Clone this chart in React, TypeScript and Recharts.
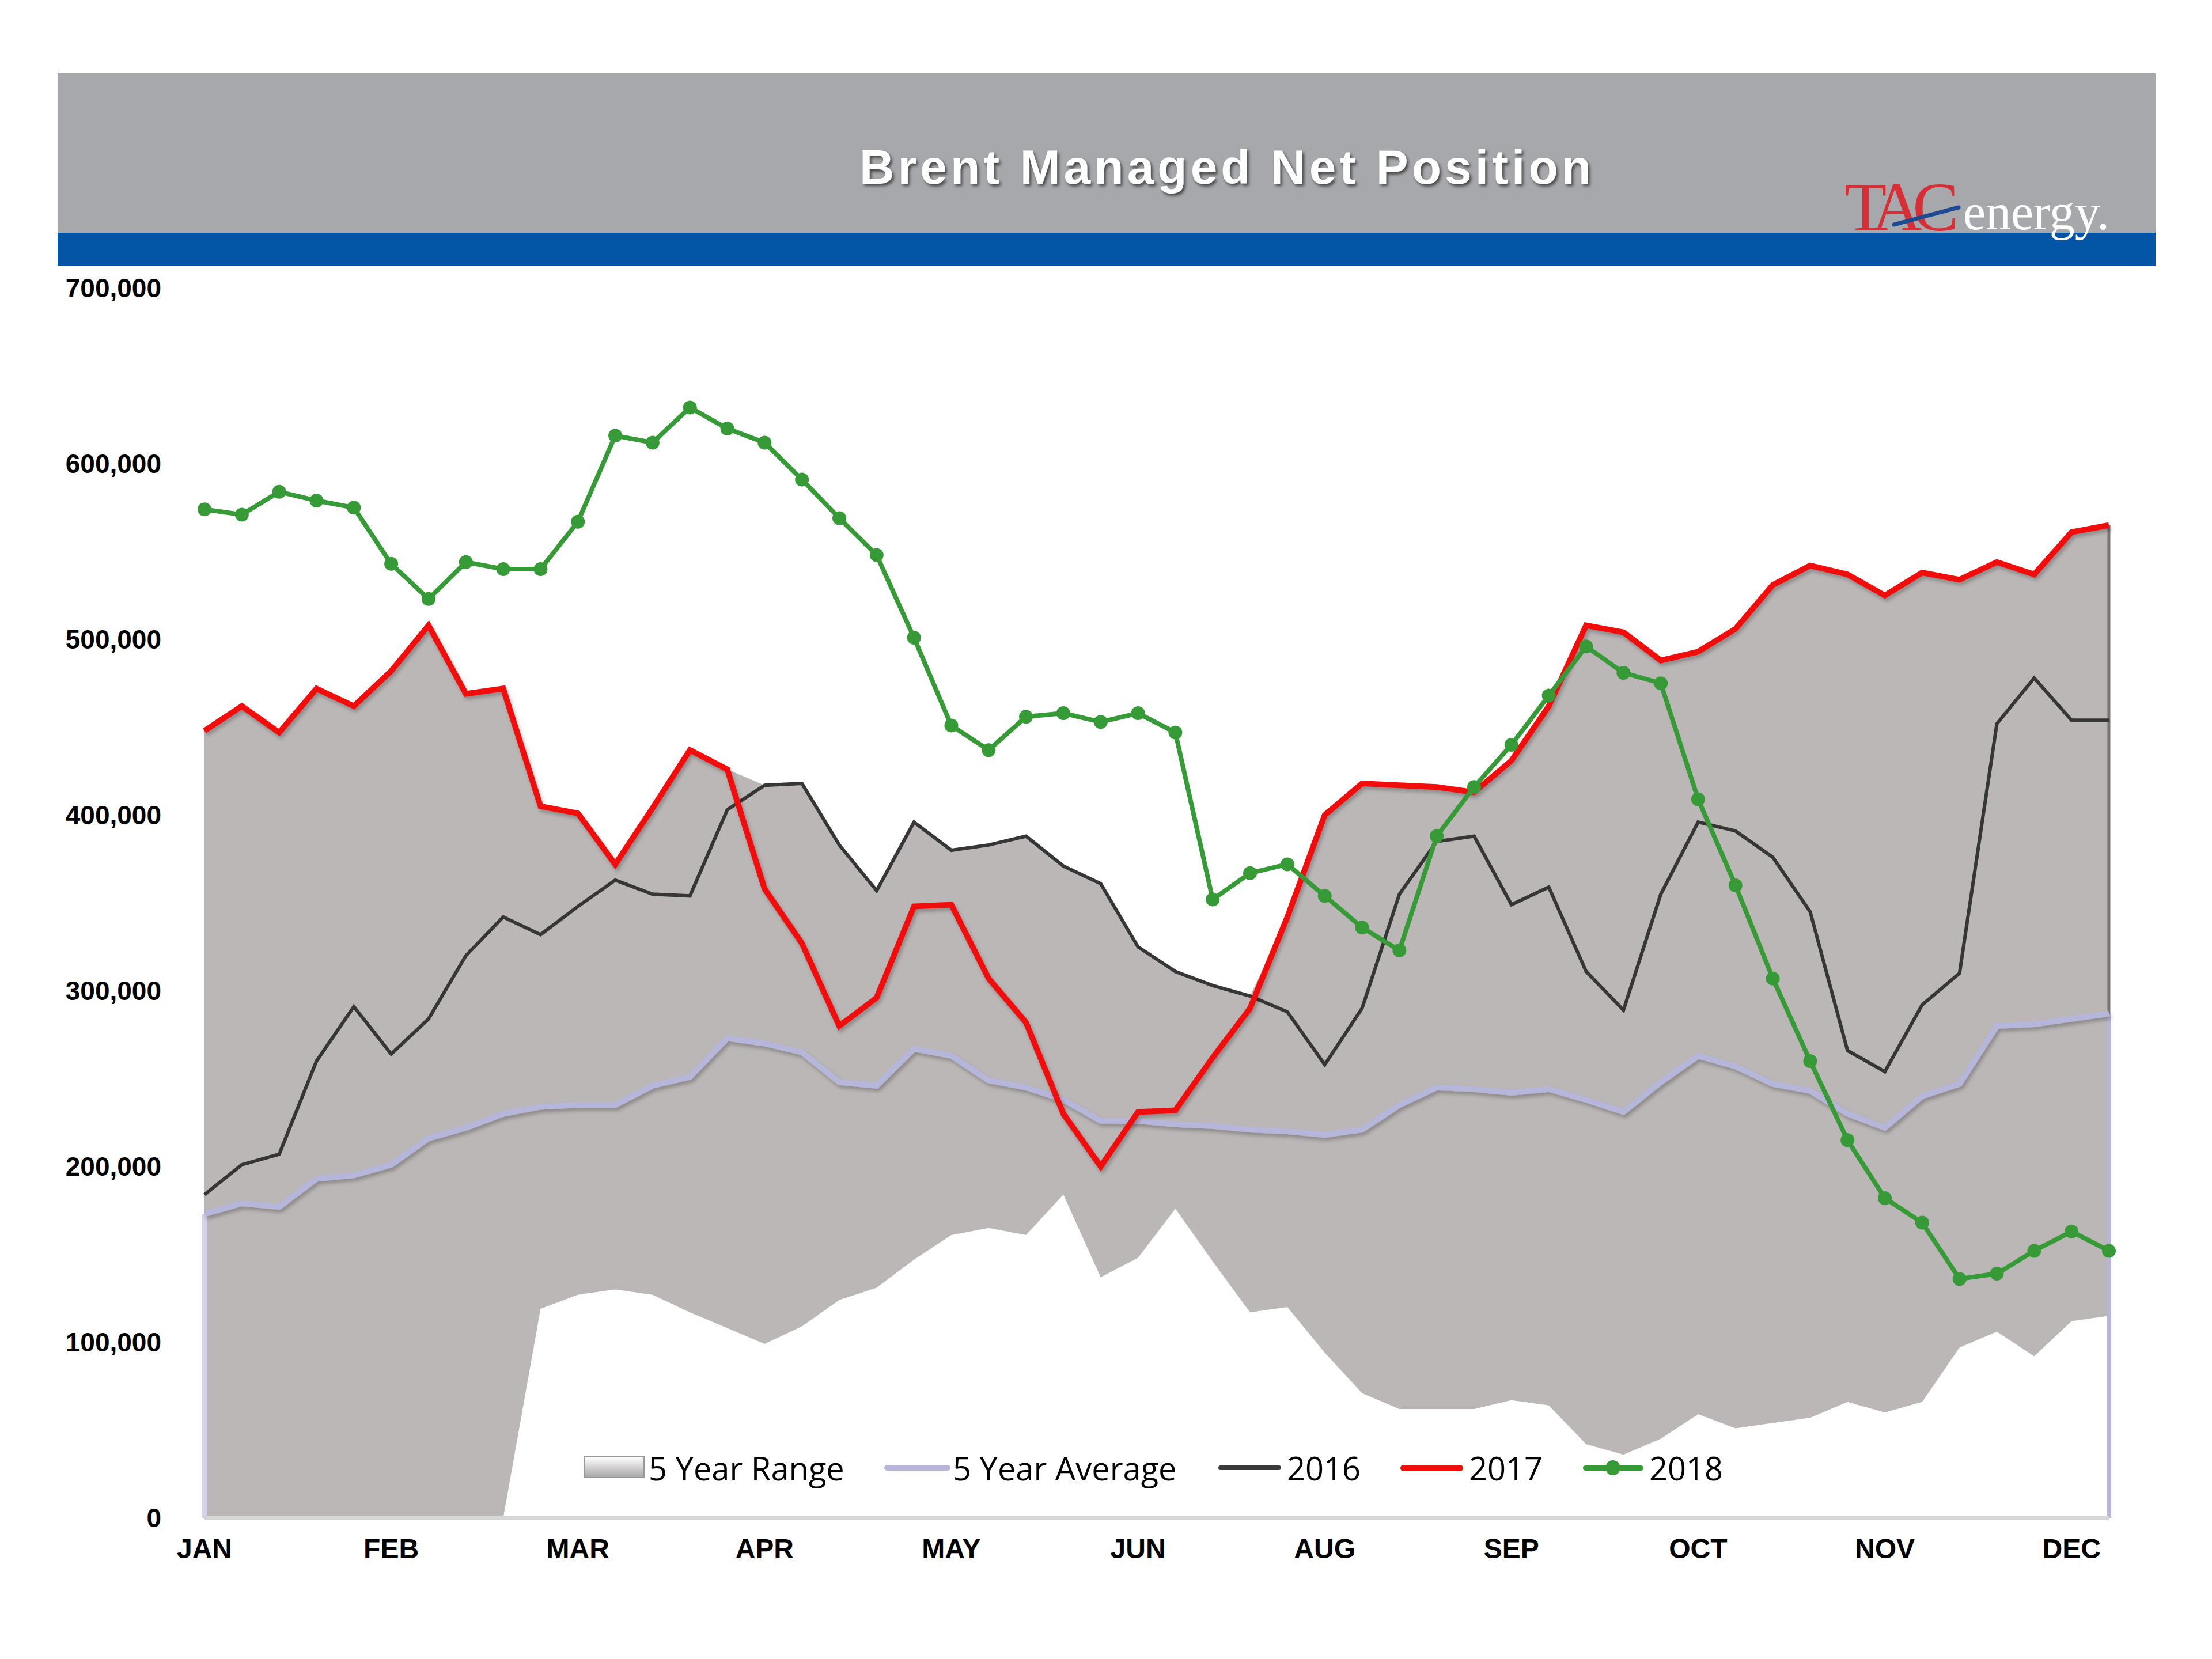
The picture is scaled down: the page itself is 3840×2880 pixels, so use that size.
import React from 'react';
import { ComposedChart, Area, Line, XAxis, YAxis, ReferenceLine } from 'recharts';

// Week index (52 weekly reports)
const weeks = [
  1, 2, 3, 4, 5, 6, 7, 8, 9, 10, 11, 12, 13, 14, 15, 16, 17, 18, 19, 20, 21, 22, 23, 24, 25, 26,
  27, 28, 29, 30, 31, 32, 33, 34, 35, 36, 37, 38, 39, 40, 41, 42, 43, 44, 45, 46, 47, 48, 49, 50, 51, 52,
];
const monthTickWeeks = [1, 6, 11, 16, 21, 26, 31, 36, 41, 46, 51];
const monthLabels = ['JAN', 'FEB', 'MAR', 'APR', 'MAY', 'JUN', 'AUG', 'SEP', 'OCT', 'NOV', 'DEC'];
const yTicks = [0, 100000, 200000, 300000, 400000, 500000, 600000, 700000];

const range5Low = [
  0, 0, 0, 0, 0, 0, 0, 0, 0, 119000, 127000, 130000, 127000, 117000, 108000, 99000, 109000, 124000,
  131000, 147000, 161000, 165000, 161000, 184000, 137000, 148000, 176000, 146000, 117000, 120000, 94000,
  71000, 62000, 62000, 62000, 67000, 64000, 42000, 36000, 45000, 59000, 51000, 54000, 57000, 66000,
  60000, 66000, 97000, 106000, 92000, 112000, 115000,
];
const range5High = [
  448000, 462000, 447000, 472000, 462000, 482000, 508000, 469000, 472000, 405000, 401000, 372000,
  404000, 437000, 426000, 417000, 418000, 384000, 356000, 397000, 380000, 383000, 388000, 371000,
  361000, 326000, 311000, 304000, 297000, 342000, 400000, 418000, 417000, 416000, 413000, 431000,
  462000, 508000, 504000, 488000, 493000, 506000, 531000, 542000, 537000, 525000, 538000, 534000,
  544000, 537000, 561000, 565000,
];
const avg5 = [
  173000, 179000, 177000, 193000, 195000, 201000, 216000, 222000, 230000, 234000, 235000, 235000,
  246000, 251000, 273000, 270000, 265000, 248000, 246000, 267000, 263000, 249000, 245000, 238000,
  226000, 226000, 224000, 223000, 221000, 220000, 218000, 221000, 235000, 245000, 244000, 242000,
  244000, 238000, 231000, 248000, 263000, 257000, 247000, 243000, 230000, 222000, 240000, 247000,
  280000, 281000, 284000, 287000,
];
const y2016 = [
  184000, 201000, 207000, 260000, 291000, 264000, 284000, 320000, 342000, 332000, 348000, 363000,
  355000, 354000, 403000, 417000, 418000, 383000, 357000, 396000, 380000, 383000, 388000, 371000,
  361000, 325000, 311000, 303000, 297000, 288000, 258000, 290000, 355000, 385000, 388000, 349000,
  359000, 311000, 289000, 355000, 396000, 391000, 376000, 345000, 266000, 254000, 292000, 310000,
  452000, 478000, 454000, 454000,
];
const y2017 = [
  448000, 462000, 447000, 472000, 462000, 482000, 508000, 469000, 472000, 405000, 401000, 372000,
  404000, 437000, 426000, 358000, 327000, 280000, 296000, 348000, 349000, 307000, 282000, 230000,
  200000, 231000, 232000, 262000, 290000, 342000, 400000, 418000, 417000, 416000, 413000, 431000,
  462000, 508000, 504000, 488000, 493000, 506000, 531000, 542000, 537000, 525000, 538000, 534000,
  544000, 537000, 561000, 565000,
];
const y2018 = [
  574000, 571000, 584000, 579000, 575000, 543000, 523000, 544000, 540000, 540000, 567000, 616000,
  612000, 632000, 620000, 612000, 591000, 569000, 548000, 501000, 451000, 437000, 456000, 458000,
  453000, 458000, 447000, 352000, 367000, 372000, 354000, 336000, 323000, 388000, 416000, 440000,
  468000, 496000, 481000, 475000, 409000, 360000, 307000, 260000, 215000, 182000, 168000, 136000,
  139000, 152000, 163000, 152000,
];

const data = weeks.map((w, i) => ({
  week: w,
  range: [range5Low[i], range5High[i]],
  avg: avg5[i],
  y2016: y2016[i],
  y2017: y2017[i],
  y2018: y2018[i],
}));

const C_RANGE = '#BBB7B6';
const C_AVG = '#B6B5DA';
const C_2016 = '#363636';
const C_2017 = '#F20D0D';
const C_2018 = '#369B36';

const legendFont = "'Open Sans', 'Liberation Sans', sans-serif";

const fmt = (v: number) => v.toLocaleString('en-US');
const monthFmt = (w: number) => {
  const k = monthTickWeeks.indexOf(w);
  return k >= 0 ? monthLabels[k] : '';
};

function LegendRow() {
  const itemText: React.CSSProperties = {
    position: 'absolute',
    fontFamily: legendFont,
    fontSize: 56,
    color: '#000',
    lineHeight: '80px',
    top: 0,
    whiteSpace: 'nowrap',
  };
  const lineSw = (left: number, width: number, color: string, thick: number): React.CSSProperties => ({
    position: 'absolute',
    left,
    width,
    top: 40 - thick / 2,
    height: thick,
    background: color,
    borderRadius: thick / 2,
  });
  return (
    <div style={{ position: 'absolute', left: 0, top: 2508, width: 3840, height: 80 }}>
      <div
        style={{
          position: 'absolute',
          left: 1013,
          top: 20,
          width: 106,
          height: 38,
          background: 'linear-gradient(#ffffff 0%, #d9d7d7 45%, #a9a6a6 100%)',
          border: '2px solid #9a9797',
          boxSizing: 'border-box',
        }}
      />
      <div style={{ ...itemText, left: 1126 }}>5 Year Range</div>
      <div style={lineSw(1535, 115, C_AVG, 10)} />
      <div style={{ ...itemText, left: 1654 }}>5 Year Average</div>
      <div style={lineSw(2115, 109, '#3a3a3a', 8)} />
      <div style={{ ...itemText, left: 2234 }}>2016</div>
      <div style={lineSw(2431, 109, C_2017, 11)} />
      <div style={{ ...itemText, left: 2550 }}>2017</div>
      <div style={lineSw(2748, 105, C_2018, 9)} />
      <div
        style={{
          position: 'absolute',
          left: 2787,
          top: 27,
          width: 26,
          height: 26,
          borderRadius: 13,
          background: C_2018,
        }}
      />
      <div style={{ ...itemText, left: 2863 }}>2018</div>
    </div>
  );
}

function Header() {
  return (
    <>
      <div
        style={{
          position: 'absolute',
          left: 100,
          top: 127,
          width: 3642,
          height: 277,
          background: '#A7A8AC',
        }}
      />
      <div
        style={{
          position: 'absolute',
          left: 100,
          top: 404,
          width: 3642,
          height: 57,
          background: '#0254A5',
        }}
      />
      <div
        style={{
          position: 'absolute',
          left: 1130,
          width: 2000,
          top: 240,
          height: 100,
          lineHeight: '100px',
          textAlign: 'center',
          fontFamily: "'Liberation Sans', Arial, sans-serif",
          fontWeight: 700,
          fontSize: 84,
          letterSpacing: 6,
          color: '#ffffff',
          textShadow: '3px 4px 5px rgba(40,40,40,0.75)',
        }}
      >
        Brent Managed Net Position
      </div>
      <svg
        style={{ position: 'absolute', left: 0, top: 0 }}
        width={3840}
        height={520}
      >
        <text
          x={3202}
          y={400}
          fontFamily="'Liberation Serif', 'DejaVu Serif', serif"
          fontSize={120}
          fill="#D62F35"
          letterSpacing={-16}
        >
          TAC
        </text>
        <line x1={3288} y1={390} x2={3400} y2={360} stroke="#1E4A92" strokeWidth={7} strokeLinecap="round" />
        <text
          x={3408}
          y={398}
          fontFamily="'Liberation Serif', 'DejaVu Serif', serif"
          fontSize={88}
          fill="#ffffff"
        >
          energy.
        </text>
      </svg>
    </>
  );
}

export default function App() {
  return (
    <div
      style={{
        position: 'absolute',
        left: 0,
        top: 0,
        width: 3840,
        height: 2880,
        background: '#ffffff',
        overflow: 'hidden',
      }}
    >
      <Header />
      <div style={{ position: 'absolute', left: 0, top: 0 }}>
        <ComposedChart
          width={3840}
          height={2880}
          data={data}
          margin={{ top: 500, right: 179, bottom: 0, left: 0 }}
        >
          <defs>
            <filter id="lineShadow" x="-5%" y="-5%" width="110%" height="120%">
              <feDropShadow dx="3" dy="5" stdDeviation="3" floodColor="#000" floodOpacity="0.25" />
            </filter>
          </defs>
          <XAxis
            dataKey="week"
            type="category"
            scale="point"
            padding={{ left: 0, right: 0 }}
            ticks={monthTickWeeks}
            interval={0}
            tickFormatter={monthFmt}
            height={245}
            tickSize={0}
            tickMargin={36}
            axisLine={{ stroke: '#D6D6D6', strokeWidth: 8 }}
            tick={{
              fontFamily: "'Liberation Sans', Arial, sans-serif",
              fontWeight: 700,
              fontSize: 48,
              fill: '#000',
            }}
          />
          <YAxis
            type="number"
            domain={[0, 700000]}
            ticks={yTicks}
            interval={0}
            tickFormatter={fmt}
            width={355}
            tickSize={0}
            tickMargin={75}
            axisLine={false}
            tickLine={false}
            tick={{
              fontFamily: "'Liberation Sans', Arial, sans-serif",
              fontWeight: 700,
              fontSize: 46,
              fill: '#000',
            }}
          />
          <Area
            dataKey="range"
            type="linear"
            fill={C_RANGE}
            fillOpacity={1}
            stroke="none"
            isAnimationActive={false}
            activeDot={false}
          />
          <ReferenceLine
            segment={[
              { x: weeks[weeks.length - 1], y: 0 },
              { x: weeks[weeks.length - 1], y: range5High[range5High.length - 1] },
            ]}
            stroke="#777474"
            strokeWidth={5}
            ifOverflow="visible"
          />
          <ReferenceLine
            segment={[
              { x: weeks[0], y: 0 },
              { x: weeks[0], y: avg5[0] },
            ]}
            stroke="#D3D2E8"
            strokeWidth={8}
            ifOverflow="visible"
          />
          <ReferenceLine
            segment={[
              { x: weeks[weeks.length - 1], y: 0 },
              { x: weeks[weeks.length - 1], y: avg5[avg5.length - 1] },
            ]}
            stroke={C_AVG}
            strokeWidth={7}
            ifOverflow="visible"
          />
          <Line
            dataKey="avg"
            type="linear"
            stroke={C_AVG}
            strokeWidth={10}
            dot={false}
            activeDot={false}
            filter="url(#lineShadow)"
            isAnimationActive={false}
          />
          <Line
            dataKey="y2016"
            type="linear"
            stroke={C_2016}
            strokeWidth={6}
            dot={false}
            activeDot={false}
            isAnimationActive={false}
          />
          <Line
            dataKey="y2017"
            type="linear"
            stroke={C_2017}
            strokeWidth={10}
            dot={false}
            activeDot={false}
            filter="url(#lineShadow)"
            isAnimationActive={false}
          />
          <Line
            dataKey="y2018"
            type="linear"
            stroke={C_2018}
            strokeWidth={8}
            dot={{ r: 12, fill: C_2018, stroke: C_2018, strokeWidth: 0 }}
            activeDot={false}
            isAnimationActive={false}
          />
        </ComposedChart>
      </div>
      <LegendRow />
    </div>
  );
}
